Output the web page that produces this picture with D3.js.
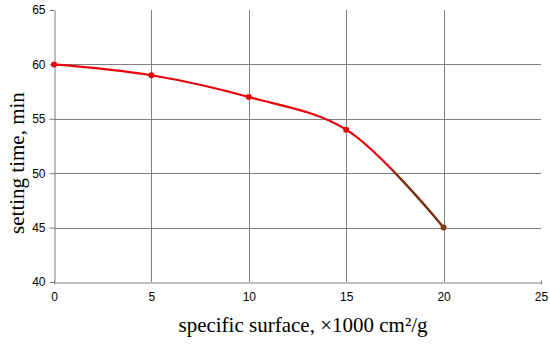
<!DOCTYPE html>
<html><head><meta charset="utf-8">
<script src="https://cdn.jsdelivr.net/npm/d3@7"></script>
<style>body{margin:0;background:#fff}svg{display:block}</style>
</head><body>
<script>
const surface = [0, 5, 10, 15, 20];
const settingTime = [60, 59, 57, 54, 45];
const xTicks = [0, 5, 10, 15, 20, 25];
const yTicks = [40, 45, 50, 55, 60, 65];

const W = 550, H = 345;
const m = {l: 54, r: 9, t: 10, b: 63};
const svg = d3.select("body").append("svg").attr("width", W).attr("height", H);
const x = d3.scaleLinear().domain([0, 25]).range([m.l, W - m.r]);
const y = d3.scaleLinear().domain([40, 65]).range([H - m.b, m.t]);

const grid = svg.append("g").attr("stroke", "#7f7f7f").attr("stroke-width", 1);
yTicks.filter(v => v > 40 && v < 65).forEach(v => {
  grid.append("line").attr("x1", x(0)).attr("x2", x(25)).attr("y1", Math.round(y(v)) + 0.5).attr("y2", Math.round(y(v)) + 0.5);
});
xTicks.filter(v => v > 0 && v < 25).forEach(v => {
  grid.append("line").attr("y1", y(40)).attr("y2", y(65)).attr("x1", Math.round(x(v)) + 0.5).attr("x2", Math.round(x(v)) + 0.5);
});

const xAxis = svg.append("g").attr("transform", `translate(0,${Math.round(y(40)) + 0.5})`)
  .call(d3.axisBottom(x).tickValues(xTicks).tickSize(4).tickSizeOuter(0).tickPadding(6));
const yAxis = svg.append("g").attr("transform", `translate(${Math.round(x(0)) + 0.5},0)`)
  .call(d3.axisLeft(y).tickValues(yTicks).tickSize(5).tickSizeOuter(0).tickPadding(4));
[xAxis, yAxis].forEach(a => {
  a.selectAll("path,line").attr("stroke", "#7f7f7f");
  a.selectAll("text").attr("font-family", "Liberation Sans, Arial, sans-serif").attr("font-size", 12).attr("fill", "#000");
});
xAxis.selectAll(".tick line").attr("transform", "translate(0,-2)");
xAxis.selectAll(".tick").filter(d => d > 0 && d < 25).select("line").remove();

const pts = surface.map((s, i) => [s, settingTime[i]]);
const line = d3.line().x(d => x(d[0])).y(d => y(d[1])).curve(d3.curveCatmullRom.alpha(0.5));
svg.append("path").attr("d", line(pts)).attr("fill", "none").attr("stroke", "#e8000b").attr("stroke-width", 2.2);

svg.append("clipPath").attr("id", "clipEnd").append("rect")
  .attr("x", x(17.4)).attr("y", 0).attr("width", x(20) - x(17.4) + 10).attr("height", H);
svg.append("path").attr("d", line(pts)).attr("fill", "none").attr("stroke", "#6e3b12").attr("stroke-width", 2.2)
  .attr("clip-path", "url(#clipEnd)");

svg.selectAll("circle.pt").data(pts).enter().append("circle")
  .attr("cx", d => x(d[0])).attr("cy", d => y(d[1])).attr("r", 3)
  .attr("fill", (d, i) => i === pts.length - 1 ? "#7a3a12" : "#e8000b");

svg.append("text").attr("x", 303).attr("y", 332).attr("text-anchor", "middle")
  .attr("font-family", "Liberation Serif, Times New Roman, serif").attr("font-size", 21)
  .text("specific surface, \u00d71000 cm\u00b2/g");
svg.append("text").attr("transform", `translate(24,163) rotate(-90)`).attr("text-anchor", "middle")
  .attr("font-family", "Liberation Serif, Times New Roman, serif").attr("font-size", 21)
  .text("setting time, min");
</script>
</body></html>
